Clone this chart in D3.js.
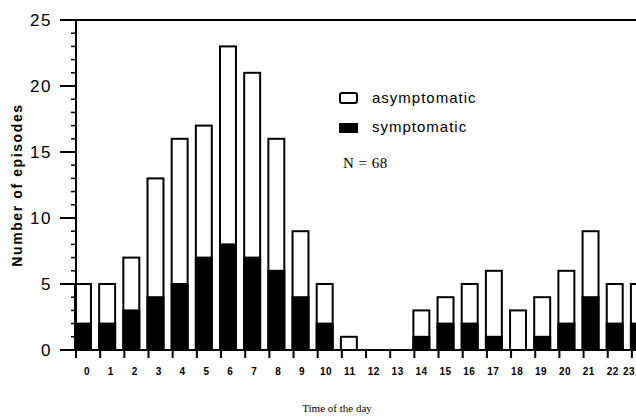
<!DOCTYPE html>
<html><head><meta charset="utf-8">
<script src="https://cdn.jsdelivr.net/npm/d3@7"></script>
<style>body{margin:0;background:#fff}svg{display:block}</style>
</head><body>
<svg id="c" width="636" height="417"></svg>
<script>
const hours = d3.range(0, 24).map(String);
const symptomatic  = [2,2,3,4,5,7,8,7,6,4,2,0,0,0,1,2,2,1,0,1,2,4,2,2];
const asymptomatic = [3,3,4,9,11,10,15,14,10,5,3,1,0,0,2,2,3,5,3,3,4,5,3,3];
const yMajorTicks = [0,5,10,15,20,25];
const legendLabels = ["asymptomatic","symptomatic"];

const svg = d3.select("#c");
const x0 = 75, step = 24.17, pad = 0.34;
const x = d3.scaleBand().domain(hours)
  .range([x0, x0 + step * (hours.length - pad)])
  .paddingInner(pad).paddingOuter(0);
const y = d3.scaleLinear().domain([0,25]).range([350,20]);

// frame lines
svg.append("line").attr("x1",60).attr("x2",636).attr("y1",y(25)).attr("y2",y(25))
  .attr("stroke","#000").attr("stroke-width",2);

// bars
const data = hours.map((h,i)=>({h, s:symptomatic[i], a:asymptomatic[i]}));
const g = svg.append("g");
data.forEach(d=>{
  const tot = d.s + d.a;
  if (tot > 0) {
    g.append("rect").attr("x",x(d.h)).attr("width",x.bandwidth())
      .attr("y",y(tot)).attr("height",y(0)-y(tot))
      .attr("fill","#fff").attr("stroke","#000").attr("stroke-width",2);
  }
  if (d.s > 0) {
    g.append("rect").attr("x",x(d.h)).attr("width",x.bandwidth())
      .attr("y",y(d.s)).attr("height",y(0)-y(d.s))
      .attr("fill","#000").attr("stroke","#000").attr("stroke-width",2);
  }
});

// y axis
const ya = svg.append("g");
ya.append("line").attr("x1",76).attr("x2",76).attr("y1",y(25)).attr("y2",y(0))
  .attr("stroke","#000").attr("stroke-width",2);
d3.range(0,26).forEach(v=>{
  const major = v % 5 === 0;
  ya.append("line").attr("x1", major ? 60 : 71).attr("x2",76)
    .attr("y1",y(v)).attr("y2",y(v)).attr("stroke","#000").attr("stroke-width",major?2:1.5);
});
yMajorTicks.forEach(v=>{
  ya.append("text").attr("x",52).attr("y",y(v)).attr("dy","0.36em")
    .attr("text-anchor","end").attr("font-family","Liberation Sans, Arial, sans-serif")
    .attr("font-size",17).attr("letter-spacing",1.5).text(v);
});

// x axis
const xa = svg.append("g");
xa.append("line").attr("x1",76).attr("x2",636).attr("y1",y(0)).attr("y2",y(0))
  .attr("stroke","#000").attr("stroke-width",2);
hours.forEach((h,i)=>{
  const xt = x(h) + 1;
  xa.append("line").attr("x1",xt).attr("x2",xt).attr("y1",y(0)).attr("y2",y(0)+8)
    .attr("stroke","#000").attr("stroke-width",2);
  const lx = Math.min(x(h) + x.bandwidth()/2 + 4 - 0.27*i, 629);
  xa.append("text").attr("x", lx).attr("y",375)
    .attr("text-anchor","middle").attr("font-family","Liberation Sans, Arial, sans-serif")
    .attr("font-weight","bold").attr("font-size",10).attr("letter-spacing",0.5).text(h);
});

// axis titles
svg.append("text").attr("transform","translate(22,185) rotate(-90)")
  .attr("text-anchor","middle").attr("font-family","Liberation Sans, Arial, sans-serif")
  .attr("font-weight","bold").attr("font-size",14).attr("letter-spacing",1.6)
  .text("Number of episodes");
svg.append("text").attr("x",337).attr("y",412).attr("text-anchor","middle")
  .attr("font-family","Liberation Serif, Times New Roman, serif").attr("font-size",11)
  .text("Time of the day");

// legend
const lg = svg.append("g");
lg.append("rect").attr("x",340).attr("y",93).attr("width",17).attr("height",10).attr("rx",2)
  .attr("fill","#fff").attr("stroke","#000").attr("stroke-width",2);
lg.append("rect").attr("x",339).attr("y",123).attr("width",19).attr("height",10)
  .attr("fill","#000");
lg.append("text").attr("x",372).attr("y",98).attr("dy","0.36em")
  .attr("font-family","Liberation Sans, Arial, sans-serif").attr("font-size",15)
  .attr("letter-spacing",1).text(legendLabels[0]);
lg.append("text").attr("x",372).attr("y",127).attr("dy","0.36em")
  .attr("font-family","Liberation Sans, Arial, sans-serif").attr("font-size",15)
  .attr("letter-spacing",1).text(legendLabels[1]);
lg.append("text").attr("x",343).attr("y",163).attr("dy","0.36em")
  .attr("font-family","Liberation Serif, Times New Roman, serif").attr("font-size",15)
  .attr("letter-spacing",0.5).text("N = 68");
</script>
</body></html>
